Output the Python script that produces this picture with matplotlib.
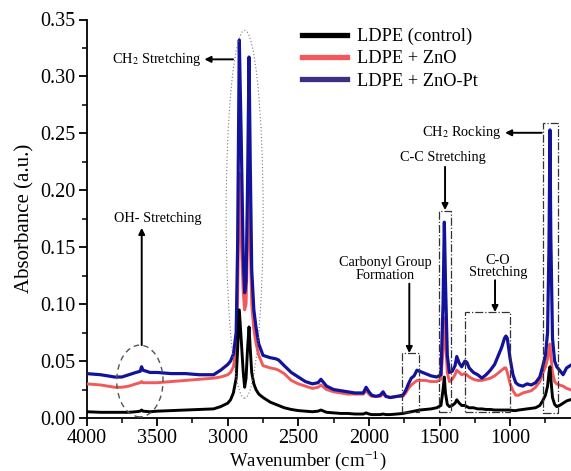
import matplotlib
matplotlib.use("Agg")
import matplotlib.pyplot as plt
from matplotlib.patches import Ellipse, Rectangle

plt.rcParams['font.family'] = ['Liberation Serif', 'DejaVu Serif']
plt.rcParams['mathtext.fontset'] = 'stix'

wavenumber = [4000, 3900, 3800, 3750, 3700, 3650, 3620, 3610, 3600, 3550, 3500, 3400, 3300, 3200,
              3100, 3050, 3000, 2980, 2960, 2940, 2930, 2918, 2905, 2890, 2880, 2870, 2860, 2849,
              2840, 2830, 2815, 2800, 2780, 2750, 2700, 2660, 2640, 2600, 2550, 2500, 2450, 2400,
              2360, 2340, 2320, 2300, 2250, 2200, 2150, 2100, 2040, 2020, 2000, 1980, 1950, 1920,
              1900, 1880, 1850, 1800, 1760, 1740, 1720, 1700, 1680, 1660, 1640, 1600, 1560, 1520,
              1490, 1475, 1466, 1458, 1445, 1430, 1410, 1390, 1378, 1360, 1343, 1320, 1307, 1290,
              1260, 1230, 1200, 1170, 1140, 1110, 1080, 1060, 1040, 1030, 1020, 1000, 980, 960,
              940, 910, 880, 850, 820, 790, 770, 750, 735, 725, 718, 712, 700, 685, 670, 650,
              625, 600, 575]

ldpe_control = [0.0055, 0.005, 0.005, 0.005, 0.005, 0.0055, 0.006, 0.007, 0.006, 0.0055, 0.006, 0.0065, 0.007, 0.0075,
                0.008, 0.010, 0.013, 0.016, 0.022, 0.035, 0.060, 0.095, 0.070, 0.040, 0.027, 0.035, 0.060, 0.080,
                0.060, 0.040, 0.030, 0.025, 0.021, 0.018, 0.014, 0.012, 0.011, 0.009, 0.0075, 0.0065, 0.006, 0.0055,
                0.006, 0.007, 0.006, 0.005, 0.0045, 0.004, 0.004, 0.0035, 0.0035, 0.0045, 0.0035, 0.003, 0.003, 0.003,
                0.0035, 0.003, 0.003, 0.0035, 0.004, 0.0045, 0.005, 0.0055, 0.006, 0.0065, 0.007, 0.0075, 0.008, 0.009,
                0.011, 0.025, 0.036, 0.022, 0.012, 0.010, 0.011, 0.013, 0.016, 0.013, 0.011, 0.011, 0.010, 0.009,
                0.009, 0.008, 0.008, 0.0075, 0.0075, 0.007, 0.007, 0.007, 0.007, 0.007, 0.007, 0.007, 0.0065, 0.0065,
                0.007, 0.0075, 0.008, 0.0085, 0.009, 0.011, 0.015, 0.020, 0.028, 0.040, 0.045, 0.035, 0.018, 0.012, 0.010, 0.011,
                0.013, 0.015, 0.016]

ldpe_zno = [0.030, 0.029, 0.027, 0.027, 0.028, 0.030, 0.031, 0.032, 0.031, 0.031, 0.031, 0.032, 0.033, 0.034,
            0.035, 0.036, 0.038, 0.040, 0.045, 0.060, 0.100, 0.215, 0.160, 0.110, 0.095, 0.100, 0.150, 0.210,
            0.150, 0.100, 0.078, 0.066, 0.055, 0.046, 0.044, 0.043, 0.042, 0.039, 0.033, 0.030, 0.028, 0.026,
            0.027, 0.029, 0.027, 0.025, 0.023, 0.022, 0.021, 0.021, 0.021, 0.024, 0.021, 0.019, 0.019, 0.019,
            0.021, 0.019, 0.018, 0.019, 0.019, 0.022, 0.026, 0.029, 0.031, 0.033, 0.033, 0.033, 0.032, 0.032,
            0.034, 0.060, 0.088, 0.070, 0.040, 0.032, 0.034, 0.038, 0.042, 0.040, 0.038, 0.039, 0.038, 0.036,
            0.034, 0.033, 0.033, 0.034, 0.035, 0.037, 0.040, 0.042, 0.044, 0.044, 0.040, 0.030, 0.024, 0.020,
            0.020, 0.022, 0.023, 0.024, 0.027, 0.032, 0.039, 0.045, 0.052, 0.060, 0.065, 0.055, 0.040, 0.032, 0.030, 0.029,
            0.028, 0.026, 0.025]

ldpe_zno_pt = [0.039, 0.038, 0.036, 0.036, 0.038, 0.040, 0.041, 0.045, 0.042, 0.040, 0.040, 0.039, 0.039, 0.038,
               0.038, 0.042, 0.047, 0.050, 0.056, 0.075, 0.150, 0.332, 0.250, 0.140, 0.110, 0.120, 0.200, 0.317,
               0.220, 0.130, 0.095, 0.080, 0.065, 0.055, 0.053, 0.052, 0.051, 0.046, 0.040, 0.036, 0.032, 0.030,
               0.031, 0.034, 0.031, 0.028, 0.025, 0.024, 0.023, 0.022, 0.022, 0.027, 0.023, 0.020, 0.019, 0.020,
               0.023, 0.019, 0.018, 0.019, 0.020, 0.024, 0.030, 0.035, 0.037, 0.042, 0.041, 0.039, 0.037, 0.036,
               0.038, 0.100, 0.172, 0.120, 0.055, 0.040, 0.041, 0.046, 0.054, 0.048, 0.045, 0.050, 0.049, 0.044,
               0.040, 0.038, 0.035, 0.038, 0.042, 0.047, 0.056, 0.062, 0.070, 0.072, 0.070, 0.052, 0.038, 0.031,
               0.029, 0.028, 0.030, 0.029, 0.031, 0.036, 0.045, 0.055, 0.075, 0.150, 0.253, 0.160, 0.070, 0.050, 0.045, 0.042,
               0.038, 0.044, 0.046]

series_labels = ['LDPE (control)', 'LDPE + ZnO', 'LDPE + ZnO-Pt']
series_colors = ['#000000', '#f2595a', '#12129a']
legend_colors = ['#000000', '#f5585c', '#3d2f82']

fig = plt.figure(figsize=(5.71, 4.71), dpi=100)
ax = fig.add_axes([86.5 / 571, 53 / 471, 1 - 86.5 / 571, (418 - 19.5) / 471])

ax.plot(wavenumber, ldpe_zno, color=series_colors[1], lw=2.1, zorder=3, label=series_labels[1])
ax.plot(wavenumber, ldpe_zno_pt, color=series_colors[2], lw=2.3, zorder=4, label=series_labels[2])
ax.plot(wavenumber, ldpe_control, color=series_colors[0], lw=2.1, zorder=5, label=series_labels[0])

ax.set_xlim(4000, 569)
ax.set_ylim(0, 0.35)
ax.set_xticks([4000, 3500, 3000, 2500, 2000, 1500, 1000])
ax.set_xticks([3750, 3250, 2750, 2250, 1750, 1250, 750], minor=True)
ax.set_yticks([0.00, 0.05, 0.10, 0.15, 0.20, 0.25, 0.30, 0.35])
ax.set_yticklabels(['0.00', '0.05', '0.10', '0.15', '0.20', '0.25', '0.30', '0.35'])
ax.set_yticks([0.025, 0.075, 0.125, 0.175, 0.225, 0.275, 0.325], minor=True)
ax.tick_params(which='major', direction='out', length=6, width=1.3, labelsize=14.5, pad=2)
ax.tick_params(which='minor', direction='out', length=3.5, width=1.1)
for s in ['top', 'right']:
    ax.spines[s].set_visible(False)
for s in ['left', 'bottom']:
    ax.spines[s].set_linewidth(1.3)

ax.set_xlabel('Wavenumber (cm$^{\\mathregular{-1}}$)', fontsize=13.5)
ax.xaxis.set_label_coords(0.456, -0.076)
ax.set_ylabel('Absorbance (a.u.)', fontsize=15, labelpad=4)

h = ax.get_legend_handles_labels()
handles = [h[0][2], h[0][0], h[0][1]]
leg = ax.legend(handles, series_labels, loc='upper left', bbox_to_anchor=(302 / 571, 1 - 28 / 471),
                bbox_transform=fig.transFigure, frameon=False, fontsize=13.2, handlelength=2.45,
                handletextpad=0.55, labelspacing=0.28, borderpad=0, borderaxespad=0)
for line, c in zip(leg.get_lines(), legend_colors):
    line.set_linewidth(3.8)
    line.set_color(c)

afs = 10.3
ann_kw = dict(arrowprops=dict(arrowstyle='-|>', color='black', lw=1.4, mutation_scale=9, shrinkA=0, shrinkB=0))

# CH2 stretching
ax.text(3500, 0.315, 'CH$_2$ Stretching', fontsize=afs, ha='center', va='center')
ax.annotate('', xy=(3165, 0.315), xytext=(2962, 0.315), **ann_kw)
ax.add_patch(Ellipse((2880, 0.179), 262, 0.323, fill=False, ls=(0, (1, 2)), lw=0.8, edgecolor='#777777', zorder=6))

# OH stretching
ax.text(3497, 0.1755, 'OH- Stretching', fontsize=afs, ha='center', va='center')
ax.annotate('', xy=(3609, 0.167), xytext=(3609, 0.064), **ann_kw)
ax.add_patch(Ellipse((3622, 0.0325), 328, 0.063, fill=False, ls=(0, (4, 3)), lw=1.0, edgecolor='#555555', zorder=6))

# Carbonyl
ax.text(1886, 0.131, 'Carbonyl Group\nFormation', fontsize=afs, ha='center', va='center', linespacing=0.95)
ax.annotate('', xy=(1714, 0.057), xytext=(1714, 0.118), **ann_kw)
ax.add_patch(Rectangle((1768, 0.0055), -123, 0.0513, fill=False, ls='-.', lw=0.9, edgecolor='#333333', zorder=6))

# C-C stretching
ax.text(1475, 0.229, 'C-C Stretching', fontsize=afs, ha='center', va='center')
ax.annotate('', xy=(1461, 0.1826), xytext=(1461, 0.2206), **ann_kw)
ax.add_patch(Rectangle((1501, 0.005), -80, 0.177, fill=False, ls='-.', lw=0.9, edgecolor='#333333', zorder=6))

# CH2 rocking
ax.text(1343, 0.2505, 'CH$_2$ Rocking', fontsize=afs, ha='center', va='center')
ax.annotate('', xy=(1036, 0.2505), xytext=(776, 0.2505), **ann_kw)
ax.add_patch(Rectangle((765, 0.004), -102, 0.255, fill=False, ls='-.', lw=0.9, edgecolor='#333333', zorder=6))

# C-O stretching
ax.text(1086, 0.133, 'C-O\nStretching', fontsize=afs, ha='center', va='center', linespacing=0.95)
ax.annotate('', xy=(1107, 0.093), xytext=(1107, 0.121), **ann_kw)
ax.add_patch(Rectangle((1320, 0.0055), -319, 0.0875, fill=False, ls='-.', lw=0.9, edgecolor='#333333', zorder=6))

fig.savefig('out.png', dpi=100)
